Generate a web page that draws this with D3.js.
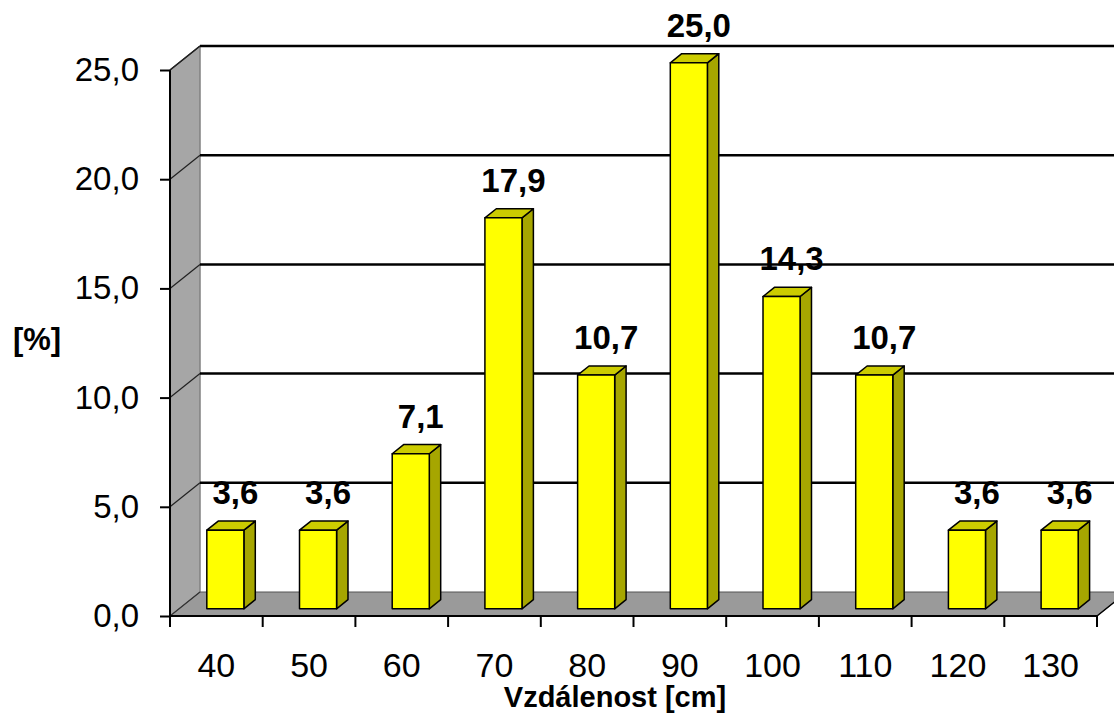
<!DOCTYPE html>
<html>
<head>
<meta charset="utf-8">
<script src="https://cdn.jsdelivr.net/npm/d3@7"></script>
<style>
  html, body { margin: 0; padding: 0; background: #fff; }
  svg { display: block; font-family: "Liberation Sans", Arial, sans-serif; }
</style>
</head>
<body>
<svg id="chart" width="1114" height="724"></svg>
<script>
// Distance categories (cm) and share of cases (%)
const categories = ["40", "50", "60", "70", "80", "90", "100", "110", "120", "130"];
const values = [3.6, 3.6, 7.1, 17.9, 10.7, 25.0, 14.3, 10.7, 3.6, 3.6];
const yTicks = [0, 5, 10, 15, 20, 25];
const yTitle = "[%]";
const xTitle = "Vzdálenost [cm]";

const svg = d3.select("#chart");

// Front plane scales
const x = d3.scaleBand().domain(categories).range([170, 1097]).paddingInner(0).paddingOuter(0);
const y = d3.scaleLinear().domain([0, 25]).range([616, 70]);

// Depth offset of the 3D box (back plane relative to front plane)
const DX = 30, DY = -24;
const proj = (px, v, d) => [px + DX * d, y(v) + DY * d];
const fmt = v => d3.format(".1f")(v).replace(".", ",");

const x0 = x.range()[0], x1 = x.range()[1];
const yMax = y.domain()[1];

// Back wall
svg.append("polygon")
  .attr("points", [proj(x0, 0, 1), proj(x1, 0, 1), proj(x1, yMax, 1), proj(x0, yMax, 1)].join(" "))
  .attr("fill", "#ffffff");

// Left wall
svg.append("polygon")
  .attr("points", [proj(x0, 0, 0), proj(x0, 0, 1), proj(x0, yMax, 1), proj(x0, yMax, 0)].join(" "))
  .attr("fill", "#a6a6a6");
svg.append("line")
  .attr("x1", proj(x0, 0, 1)[0]).attr("y1", proj(x0, 0, 1)[1])
  .attr("x2", proj(x0, yMax, 1)[0]).attr("y2", proj(x0, yMax, 1)[1])
  .attr("stroke", "#808080").attr("stroke-width", 1.5);

// Floor
svg.append("polygon")
  .attr("points", [proj(x0, 0, 0), proj(x1, 0, 0), proj(x1, 0, 1), proj(x0, 0, 1)].join(" "))
  .attr("fill", "#9a9a9a")
  .attr("stroke", "#555").attr("stroke-width", 1);

// Gridlines: across the back wall and diagonally over the left wall
const grid = svg.append("g");
yTicks.filter(t => t > 0).forEach(t => {
  const a = proj(x0, t, 0), b = proj(x0, t, 1), c = proj(x1, t, 1);
  grid.append("line")
    .attr("x1", a[0]).attr("y1", a[1]).attr("x2", b[0]).attr("y2", b[1])
    .attr("stroke", "#222").attr("stroke-width", 1.3);
  grid.append("line")
    .attr("x1", b[0]).attr("y1", b[1]).attr("x2", c[0]).attr("y2", c[1])
    .attr("stroke", "#000").attr("stroke-width", 2.5);
});
// Floor diagonal at the left wall
{
  const a = proj(x0, 0, 0), b = proj(x0, 0, 1);
  grid.append("line")
    .attr("x1", a[0]).attr("y1", a[1]).attr("x2", b[0]).attr("y2", b[1])
    .attr("stroke", "#333").attr("stroke-width", 1.2);
}

// Bars (3D boxes)
const bw = x.bandwidth();
const barW = bw * 0.4;
const dFront = 0.3, dBack = 0.68;
const bars = svg.append("g").selectAll("g").data(values).join("g");
bars.each(function(v, i) {
  const g = d3.select(this);
  const left = x(categories[i]) + (bw - barW) / 2;
  const right = left + barW;
  const fl0 = proj(left, 0, dFront), fr0 = proj(right, 0, dFront);
  const flT = proj(left, v, dFront), frT = proj(right, v, dFront);
  const blT = proj(left, v, dBack), brT = proj(right, v, dBack), br0 = proj(right, 0, dBack);
  // side face
  g.append("polygon")
    .attr("points", [fr0, frT, brT, br0].join(" "))
    .attr("fill", "#a6a600").attr("stroke", "#000").attr("stroke-width", 1.5)
    .attr("stroke-linejoin", "round");
  // top face
  g.append("polygon")
    .attr("points", [flT, frT, brT, blT].join(" "))
    .attr("fill", "#cccc00").attr("stroke", "#000").attr("stroke-width", 1.5)
    .attr("stroke-linejoin", "round");
  // front face
  g.append("polygon")
    .attr("points", [fl0, fr0, frT, flT].join(" "))
    .attr("fill", "#ffff00").attr("stroke", "#000").attr("stroke-width", 1.5)
    .attr("stroke-linejoin", "round");
  // value label
  g.append("text")
    .attr("x", (left + right) / 2 + DX * dFront + 10)
    .attr("y", blT[1] - 17)
    .attr("text-anchor", "middle")
    .attr("font-size", 33).attr("font-weight", "bold")
    .attr("fill", "#000")
    .text(fmt(v));
});

// Front edges of the box
svg.append("line")
  .attr("x1", x0).attr("y1", y(0)).attr("x2", x0).attr("y2", y(yMax))
  .attr("stroke", "#000").attr("stroke-width", 2);
{
  const a = proj(x0, yMax, 0), b = proj(x0, yMax, 1);
  svg.append("line")
    .attr("x1", a[0]).attr("y1", a[1]).attr("x2", b[0]).attr("y2", b[1])
    .attr("stroke", "#222").attr("stroke-width", 1.5);
}
svg.append("line")
  .attr("x1", x0).attr("y1", y(0)).attr("x2", x1).attr("y2", y(0))
  .attr("stroke", "#000").attr("stroke-width", 2);
{
  const a = proj(x1, 0, 0), b = proj(x1, 0, 1);
  svg.append("line")
    .attr("x1", a[0]).attr("y1", a[1]).attr("x2", b[0]).attr("y2", b[1])
    .attr("stroke", "#000").attr("stroke-width", 1.5);
}

// Y axis
const yAxis = d3.axisLeft(y).tickValues(yTicks).tickFormat(fmt).tickSize(10).tickPadding(21);
const yg = svg.append("g").attr("transform", `translate(${x0},0)`).call(yAxis);
yg.select(".domain").remove();
yg.selectAll(".tick line").attr("stroke", "#000").attr("stroke-width", 2);
yg.selectAll(".tick text")
  .attr("font-size", 33).attr("font-family", "Liberation Sans, Arial, sans-serif")
  .attr("fill", "#000");

// X axis: boundary ticks and centered labels
const xg = svg.append("g");
xg.selectAll("line.bound")
  .data(d3.range(categories.length + 1))
  .join("line")
  .attr("class", "bound")
  .attr("x1", i => x0 + i * bw).attr("x2", i => x0 + i * bw)
  .attr("y1", y(0)).attr("y2", y(0) + 11)
  .attr("stroke", "#000").attr("stroke-width", 2);
const xAxis = d3.axisBottom(x).tickSize(0).tickPadding(0);
const xa = svg.append("g").attr("transform", `translate(0,${y(0)})`).call(xAxis);
xa.select(".domain").remove();
xa.selectAll(".tick text")
  .attr("dy", null).attr("y", 61)
  .attr("font-size", 34).attr("font-family", "Liberation Sans, Arial, sans-serif")
  .attr("fill", "#000");

// Axis titles
svg.append("text")
  .attr("x", 37).attr("y", 350)
  .attr("text-anchor", "middle")
  .attr("font-size", 31).attr("font-weight", "bold")
  .text(yTitle);
svg.append("text")
  .attr("x", 615).attr("y", 707)
  .attr("text-anchor", "middle")
  .attr("font-size", 29).attr("font-weight", "bold")
  .text(xTitle);
</script>
</body>
</html>
